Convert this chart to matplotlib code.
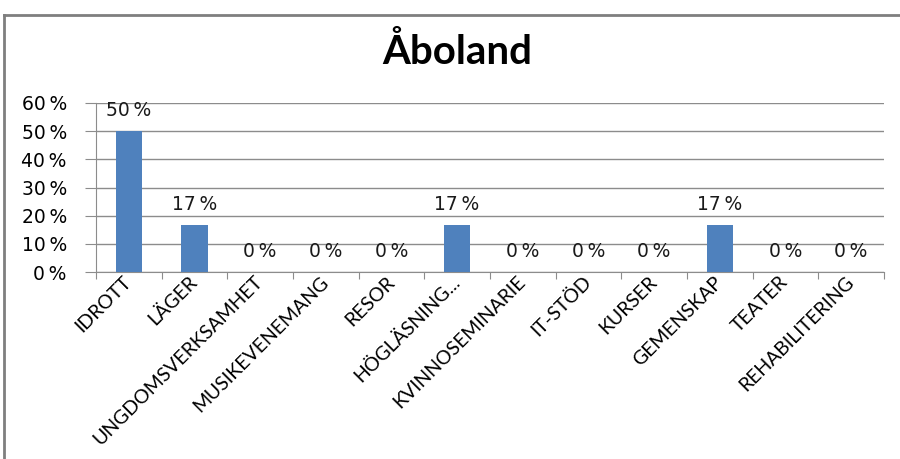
import matplotlib.pyplot as plt
from matplotlib.lines import Line2D
from matplotlib.transforms import ScaledTranslation

categories = ['IDROTT', 'LÄGER', 'UNGDOMSVERKSAMHET', 'MUSIKEVENEMANG', 'RESOR',
              'HÖGLÄSNING...', 'KVINNOSEMINARIE', 'IT-STÖD', 'KURSER', 'GEMENSKAP',
              'TEATER', 'REHABILITERING']
values = [50, 16.67, 0, 0, 0, 16.67, 0, 0, 0, 16.67, 0, 0]
yticks = [0, 10, 20, 30, 40, 50, 60]

plt.rcParams['font.family'] = ['Lato', 'DejaVu Sans']

fig = plt.figure(figsize=(9, 4.59), dpi=100)
ax = fig.add_axes([0.1067, 0.4074, 0.8753, 0.3682])

x = range(len(categories))
ax.bar(x, values, width=0.4, color='#4F81BD', zorder=3)
for i, v in enumerate(values):
    ax.text(i, v + 7.3, f'{round(v)}\u2009%', ha='center', va='center', fontsize=13.5,
            family=['DejaVu Sans'], color='#1a1a1a')

ax.set_xlim(-0.5, len(categories) - 0.5)
ax.set_ylim(0, 60)
ax.set_yticks(yticks)
ax.set_yticklabels([f'{t}\u2009%' for t in yticks], family=['DejaVu Sans'], fontsize=13.5)
ax.yaxis.grid(True, color='#8c8c8c', linewidth=1, zorder=0)
ax.tick_params(axis='y', length=8, color='#8c8c8c', pad=13)

ax.set_xticks([i - 0.5 for i in range(len(categories) + 1)], minor=False)
ax.set_xticklabels([])
ax.set_xticks(list(x), minor=True)
ax.set_xticklabels(categories, minor=True, rotation=45, ha='right', va='top',
                   rotation_mode='anchor', fontsize=14)
ax.tick_params(axis='x', which='major', length=5, color='#8c8c8c')
ax.tick_params(axis='x', which='minor', length=0, pad=3)
shift = ScaledTranslation(-6 / 100, 3 / 100, fig.dpi_scale_trans)
for lab in ax.get_xticklabels(minor=True):
    lab.set_transform(lab.get_transform() + shift)

for s in ['top', 'right']:
    ax.spines[s].set_visible(False)
for s in ['left', 'bottom']:
    ax.spines[s].set_color('#8c8c8c')

fig.text(0.508, 0.887, 'Åboland', ha='center', va='center', fontsize=29,
         fontweight='bold', family=['Lato', 'DejaVu Sans'])

# outer chart border
fig.add_artist(Line2D([4 / 900, 1], [1 - 15 / 459, 1 - 15 / 459], color='#7f7f7f', linewidth=2))
fig.add_artist(Line2D([4 / 900, 4 / 900], [0, 1 - 15 / 459], color='#7f7f7f', linewidth=2))

plt.savefig('out.png')
